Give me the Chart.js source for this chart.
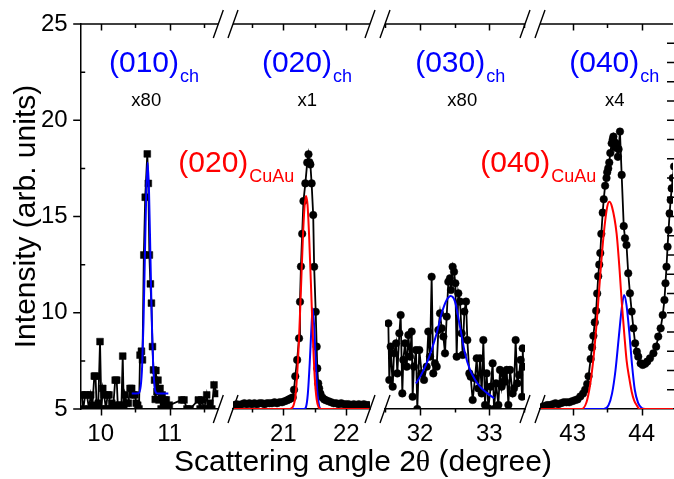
<!DOCTYPE html>
<html><head><meta charset="utf-8">
<script src="https://cdn.jsdelivr.net/npm/chart.js@4/dist/chart.umd.min.js"></script>
<style>html,body{margin:0;padding:0;background:#fff}#wrap{width:674px;height:479px}</style>
</head><body><div id="wrap"><canvas id="c" width="674" height="479"></canvas></div>
<script>
// ---------- tick labels ----------
const yTicks = [5, 10, 15, 20, 25];
const xTicks010 = [10, 11];
const xTicks020 = [21, 22];
const xTicks030 = [32, 33];
const xTicks040 = [43, 44];

// ---------- (010) region, x80 ----------
const obs010 = [[9.725,5.73],[9.748,5.0],[9.775,5.73],[9.80,5.73],[9.83,5.0],[9.855,5.73],[9.88,5.2],[9.907,6.71],[9.925,6.71],[9.942,5.0],[9.965,5.3],[9.99,8.5],[10.01,5.0],[10.03,6.07],[10.05,5.73],[10.075,5.0],[10.10,5.73],[10.12,5.73],[10.14,5.0],[10.16,5.3],[10.183,5.2],[10.21,6.5],[10.232,6.5],[10.25,5.0],[10.27,5.2],[10.30,5.2],[10.319,7.75],[10.335,5.0],[10.352,5.73],[10.375,5.3],[10.40,5.3],[10.425,6.07],[10.449,6.07],[10.47,5.73],[10.497,5.73],[10.515,5.3],[10.536,5.2],[10.555,5.0],[10.57,7.8],[10.59,8.0],[10.605,7.55],[10.625,13.0],[10.645,16.0],[10.675,18.25],[10.69,16.72],[10.705,13.0],[10.72,11.5],[10.735,10.5],[10.75,8.24],[10.765,7.03],[10.78,6.5],[10.79,5.5],[10.80,7.0],[10.815,5.9],[10.83,6.5],[10.845,5.47],[10.86,6.07],[10.875,5.0],[10.89,5.73],[10.91,5.2],[10.93,5.47],[10.95,5.47],[10.97,5.0],[10.994,5.2],[11.174,5.47],[11.207,5.47],[11.25,5.0],[11.294,5.0],[11.415,5.47],[11.44,5.0],[11.464,5.47],[11.50,5.0],[11.536,5.73],[11.56,5.0],[11.584,5.3],[11.61,5.0],[11.642,6.25],[11.681,5.8]];
const fit010ch = [[10.45,5.8],[10.55,5.82],[10.58,6.2],[10.60,7.2],[10.62,9.5],[10.64,12.9],[10.66,16.2],[10.68,17.8],[10.70,16.3],[10.72,13.0],[10.74,9.6],[10.76,7.3],[10.78,6.2],[10.80,5.85],[10.83,5.8],[10.98,5.8]];

// ---------- (020) region, x1 ----------
const obs020 = [[20.22,5.2],[20.26,5.25],[20.30,5.2],[20.34,5.25],[20.38,5.3],[20.42,5.25],[20.46,5.3],[20.50,5.25],[20.54,5.3],[20.58,5.25],[20.62,5.3],[20.66,5.3],[20.70,5.25],[20.74,5.3],[20.78,5.3],[20.82,5.3],[20.86,5.35],[20.90,5.3],[20.94,5.35],[20.98,5.35],[21.02,5.4],[21.06,5.45],[21.09,5.5],[21.12,5.55],[21.15,5.6],[21.17,6.0],[21.19,6.7],[21.22,7.55],[21.25,8.67],[21.265,10.57],[21.28,12.4],[21.30,14.1],[21.32,15.8],[21.35,16.72],[21.38,17.8],[21.40,18.23],[21.415,17.82],[21.43,17.7],[21.45,16.72],[21.475,15.08],[21.49,12.39],[21.515,10.05],[21.53,8.24],[21.54,7.11],[21.555,6.33],[21.57,6.07],[21.59,5.8],[21.62,5.6],[21.65,5.5],[21.68,5.45],[21.72,5.4],[21.76,5.35],[21.80,5.3],[21.84,5.3],[21.88,5.25],[21.92,5.3],[21.96,5.25],[22.00,5.25],[22.04,5.25],[22.08,5.2],[22.12,5.25],[22.16,5.2],[22.20,5.25],[22.24,5.2],[22.28,5.25],[22.32,5.2],[22.36,5.2]];
const fit020CuAu = [[20.20,5.0],[21.10,5.0],[21.15,5.1],[21.19,5.6],[21.22,6.8],[21.25,8.7],[21.28,11.2],[21.31,13.8],[21.335,15.4],[21.36,16.07],[21.385,15.6],[21.41,14.0],[21.44,11.4],[21.47,8.7],[21.50,6.6],[21.53,5.5],[21.56,5.1],[21.60,5.0],[22.378,5.0]];
const fit020ch = [[20.20,5.0],[21.33,5.0],[21.36,5.1],[21.39,5.8],[21.42,7.4],[21.445,9.1],[21.467,10.23],[21.49,9.3],[21.515,7.5],[21.54,5.9],[21.57,5.15],[21.60,5.0],[22.378,5.0]];

// ---------- (030) region, x80 ----------
const obs030 = [[31.543,9.45],[31.557,6.51],[31.577,8.24],[31.606,6.16],[31.625,7.89],[31.654,8.41],[31.673,6.85],[31.702,8.93],[31.721,9.88],[31.745,5.81],[31.759,7.55],[31.784,8.41],[31.808,7.20],[31.832,8.84],[31.856,7.72],[31.880,9.02],[31.894,5.64],[31.913,7.20],[31.942,8.06],[31.961,5.0],[31.990,8.06],[32.024,6.85],[32.058,6.51],[32.096,7.20],[32.120,9.02],[32.144,7.72],[32.168,11.87],[32.192,6.85],[32.216,7.37],[32.241,7.20],[32.265,9.10],[32.289,9.97],[32.313,9.19],[32.337,8.76],[32.361,7.89],[32.385,9.80],[32.409,11.61],[32.433,11.79],[32.447,11.18],[32.471,12.39],[32.491,12.13],[32.510,11.53],[32.529,7.72],[32.553,11.01],[32.577,10.58],[32.601,8.93],[32.616,7.81],[32.640,10.06],[32.664,10.58],[32.683,8.58],[32.712,6.85],[32.731,6.68],[32.760,5.47],[32.794,6.59],[32.818,7.63],[32.842,6.07],[32.866,7.63],[32.890,5.81],[32.914,8.58],[32.938,5.21],[32.962,6.85],[32.986,5.03],[33.020,6.16],[33.048,7.37],[33.068,5.0],[33.097,6.33],[33.131,5.21],[33.154,7.03],[33.178,6.16],[33.203,6.85],[33.227,6.42],[33.251,7.03],[33.275,5.21],[33.299,7.03],[33.337,5.81],[33.356,6.07],[33.380,8.58],[33.404,6.33],[33.429,6.77],[33.453,7.55],[33.472,5.64],[33.482,8.15],[33.491,7.20]];
const fit030ch = [[31.942,6.33],[32.02,6.8],[32.096,7.37],[32.17,8.1],[32.241,8.93],[32.313,9.97],[32.385,10.66],[32.443,10.87],[32.505,10.58],[32.577,9.28],[32.649,7.89],[32.722,7.03],[32.79,6.55],[32.866,6.16],[32.96,5.85],[33.068,5.56]];

// ---------- (040) region, x4 ----------
const obs040 = [[42.55,5.1],[42.59,5.15],[42.63,5.2],[42.67,5.2],[42.71,5.25],[42.75,5.3],[42.79,5.25],[42.83,5.3],[42.87,5.35],[42.91,5.35],[42.95,5.35],[42.99,5.4],[43.03,5.45],[43.07,5.5],[43.11,5.65],[43.15,5.8],[43.18,6.0],[43.21,6.3],[43.23,6.7],[43.26,7.6],[43.28,8.2],[43.30,8.8],[43.32,9.5],[43.34,10.1],[43.355,11.0],[43.37,11.9],[43.385,12.5],[43.40,13.1],[43.415,14.1],[43.435,15.2],[43.45,15.9],[43.47,16.6],[43.49,17.0],[43.50,17.3],[43.515,17.5],[43.53,17.8],[43.545,18.3],[43.565,18.8],[43.58,19.0],[43.59,19.15],[43.60,18.9],[43.61,18.6],[43.625,18.8],[43.64,18.6],[43.655,18.1],[43.665,18.5],[43.685,19.41],[43.71,17.16],[43.74,14.5],[43.758,13.87],[43.78,13.52],[43.805,12.05],[43.83,11.01],[43.855,10.06],[43.88,9.19],[43.905,8.41],[43.93,7.98],[43.95,7.72],[43.985,7.37],[44.015,7.29],[44.05,7.35],[44.08,7.46],[44.12,7.63],[44.17,7.89],[44.21,8.24],[44.24,8.76],[44.275,9.19],[44.305,9.88],[44.33,10.66],[44.345,11.53],[44.36,12.39],[44.375,13.43],[44.39,14.30],[44.405,15.16],[44.42,15.86],[44.435,16.46],[44.45,17.0],[44.47,17.6]];
const fit040CuAu = [[42.526,5.0],[43.13,5.0],[43.2,5.35],[43.25,6.2],[43.3,7.6],[43.35,9.6],[43.40,12.0],[43.45,14.1],[43.50,15.5],[43.53,15.77],[43.57,15.5],[43.637,14.1],[43.68,12.2],[43.71,10.6],[43.75,8.8],[43.782,7.5],[43.82,6.6],[43.855,5.9],[43.89,5.45],[43.927,5.2],[43.97,5.0],[44.46,5.0]];
const fit040ch = [[42.526,5.0],[43.45,5.0],[43.52,5.2],[43.57,5.8],[43.62,7.0],[43.67,8.8],[43.71,10.2],[43.745,10.92],[43.78,10.4],[43.82,9.0],[43.86,7.3],[43.90,6.0],[43.95,5.3],[44.0,5.05],[44.05,5.0],[44.46,5.0]];

// ---------- annotation texts ----------
const chTexts = ['(010)', '(020)', '(030)', '(040)'];
const multTexts = ['x80', 'x1', 'x80', 'x4'];
const cuauTexts = ['(020)', '(040)'];
const xTitleParts = ['Scattering angle 2', '\u03B8', ' (degree)'];

const FONT = '"Liberation Sans", Arial, Helvetica, sans-serif';
const SERIF = '"Liberation Serif", "Times New Roman", serif';
const BLUE = '#0000ff', RED = '#ff0000', BLACK = '#000000';

const pts = arr => arr.map(p => ({x: p[0], y: p[1]}));

function obsSet(data, axis, square) {
  return {data: pts(data), xAxisID: axis, yAxisID: 'y', order: 2,
    borderColor: BLACK, borderWidth: 1.8, backgroundColor: BLACK,
    pointStyle: square ? 'rect' : 'circle', pointRadius: square ? 4.8 : 3.8,
    pointBackgroundColor: BLACK, pointBorderColor: BLACK, pointBorderWidth: 0.5,
    tension: 0, fill: false};
}
function fitSet(data, axis, color) {
  return {data: pts(data), xAxisID: axis, yAxisID: 'y', order: 1,
    borderColor: color, borderWidth: 2, pointRadius: 0, tension: 0.3,
    cubicInterpolationMode: 'monotone', fill: false};
}

function noPad(s) { s.paddingLeft = 0; s.paddingRight = 0; s.paddingTop = 0; s.paddingBottom = 0; }

function xScale(min, max, ticksArr, weight) {
  return {type: 'linear', position: 'bottom', stack: 'xs', stackWeight: weight,
    min: min, max: max,
    afterBuildTicks: s => { s.ticks = ticksArr.map(v => ({value: v})); },
    afterFit: s => { s.height = 70; noPad(s); },
    grid: {display: false, drawTicks: false, tickLength: 0},
    border: {display: true, color: BLACK, width: 1.5},
    ticks: {color: BLACK, font: {family: FONT, size: 24}, padding: 11, maxRotation: 0, autoSkip: false}};
}
function gapScale(weight) {
  return {type: 'linear', position: 'bottom', stack: 'xs', stackWeight: weight,
    min: 0, max: 1, afterFit: s => { s.height = 70; noPad(s); },
    grid: {display: false, drawTicks: false}, border: {display: false},
    ticks: {display: false}};
}

const decor = {
  id: 'decor',
  afterDraw(chart) {
    const ctx = chart.ctx, ca = chart.chartArea, ys = chart.scales.y;
    const segs = ['x1', 'x2', 'x3', 'x4'].map(id => chart.scales[id]);
    ctx.save();
    ctx.strokeStyle = BLACK; ctx.lineWidth = 1.5; ctx.lineCap = 'butt';
    ctx.beginPath();
    // top broken axis line
    segs.forEach(s => { ctx.moveTo(s.left, ca.top); ctx.lineTo(s.right, ca.top); });
    // x ticks
    segs.forEach(s => {
      for (let v = Math.ceil(s.min * 2) / 2; v <= s.max + 1e-9; v += 0.5) {
        const px = Math.round(s.getPixelForValue(v)) + 0.5;
        const major = Math.abs(v - Math.round(v)) < 1e-6;
        ctx.moveTo(px, ca.top); ctx.lineTo(px, ca.top + (major ? 6.5 : 4));
        ctx.moveTo(px, ca.bottom); ctx.lineTo(px, ca.bottom + (major ? 6.5 : 3.5));
      }
    });
    // left y ticks: majors out, minors in
    for (let v = 5; v <= 25; v += 2.5) {
      const py = ys.getPixelForValue(v);
      const major = v % 5 === 0;
      if (major) { ctx.moveTo(ca.left - 7.5, py); ctx.lineTo(ca.left, py); }
      else { ctx.moveTo(ca.left, py); ctx.lineTo(ca.left + 4.5, py); }
    }
    // right side ticks
    for (let v = 6; v <= 24; v += 1) {
      const py = ys.getPixelForValue(v);
      ctx.moveTo(ca.right - 6, py); ctx.lineTo(ca.right + 2, py);
    }
    ctx.stroke();
    // break marks
    ctx.beginPath(); ctx.lineWidth = 1.4;
    for (let i = 0; i < 3; i++) {
      const xs = [segs[i].right, segs[i + 1].left];
      [ca.top, ca.bottom].forEach(yy => {
        xs.forEach(xx => { ctx.moveTo(xx - 5, yy + 14); ctx.lineTo(xx + 5, yy - 14); });
      });
    }
    ctx.stroke();

    // annotations
    const label = (x, y, main, sub, color) => {
      ctx.fillStyle = color; ctx.textAlign = 'left'; ctx.textBaseline = 'alphabetic';
      ctx.font = '30px ' + FONT; ctx.fillText(main, x, y);
      const w = ctx.measureText(main).width;
      ctx.font = '18px ' + FONT; ctx.fillText(sub, x + w + 1, y + 10);
    };
    const chAt = [10.12, 20.66, 31.93, 42.95];
    const multAt = [10.66, 21.38, 32.61, 43.61];
    segs.forEach((s, i) => {
      label(s.getPixelForValue(chAt[i]), ys.getPixelForValue(22.51), chTexts[i], 'ch', BLUE);
      ctx.fillStyle = BLACK; ctx.font = '18.5px ' + FONT; ctx.textAlign = 'center';
      ctx.fillText(multTexts[i], s.getPixelForValue(multAt[i]), ys.getPixelForValue(20.74));
    });
    label(segs[1].getPixelForValue(19.33), ys.getPixelForValue(17.31), cuauTexts[0], 'CuAu', RED);
    label(segs[3].getPixelForValue(41.66), ys.getPixelForValue(17.31), cuauTexts[1], 'CuAu', RED);

    // x axis title (theta in a serif face, as in the original)
    ctx.fillStyle = BLACK; ctx.textAlign = 'left'; ctx.textBaseline = 'alphabetic';
    const fonts = ['30px ' + FONT, '30px ' + SERIF, '30px ' + FONT];
    let total = 0;
    const widths = xTitleParts.map((t, i) => { ctx.font = fonts[i]; const w = ctx.measureText(t).width; total += w; return w; });
    let tx = 363 - total / 2;
    xTitleParts.forEach((t, i) => { ctx.font = fonts[i]; ctx.fillText(t, tx, 471); tx += widths[i]; });
    ctx.restore();
  }
};

new Chart(document.getElementById('c'), {
  type: 'line',
  data: {datasets: [
    obsSet(obs010, 'x1', true), fitSet(fit010ch, 'x1', BLUE),
    obsSet(obs020, 'x2', false), fitSet(fit020CuAu, 'x2', RED), fitSet(fit020ch, 'x2', BLUE),
    obsSet(obs030, 'x3', false), fitSet(fit030ch, 'x3', BLUE),
    obsSet(obs040, 'x4', false), fitSet(fit040CuAu, 'x4', RED), fitSet(fit040ch, 'x4', BLUE)
  ]},
  options: {
    responsive: false, animation: false, devicePixelRatio: 1,
    parsing: false, normalized: true,
    layout: {autoPadding: false, padding: {top: 24, right: 1, left: 0, bottom: 0}},
    plugins: {legend: {display: false}, tooltip: {enabled: false}, title: {display: false}},
    scales: {
      y: {type: 'linear', position: 'left', min: 5, max: 25,
        afterBuildTicks: s => { s.ticks = yTicks.map(v => ({value: v})); },
        afterFit: s => { s.width = 80.7; noPad(s); },
        grid: {display: false, drawTicks: false, tickLength: 0},
        border: {display: true, color: BLACK, width: 1.5},
        ticks: {color: BLACK, font: {family: FONT, size: 24}, padding: 13},
        title: {display: true, text: 'Intensity (arb. units)', color: BLACK,
          font: {family: FONT, size: 30}, padding: {top: 9, bottom: 0}}},
      x1: xScale(9.71, 11.704, xTicks010, 137.6),
      g1: gapScale(14.7),
      x2: xScale(20.2, 22.378, xTicks020, 137),
      g2: gapScale(15),
      x3: xScale(31.495, 33.515, xTicks030, 140),
      g3: gapScale(15),
      x4: xScale(42.526, 44.454, xTicks040, 133)
    }
  },
  plugins: [decor]
});
</script></body></html>
